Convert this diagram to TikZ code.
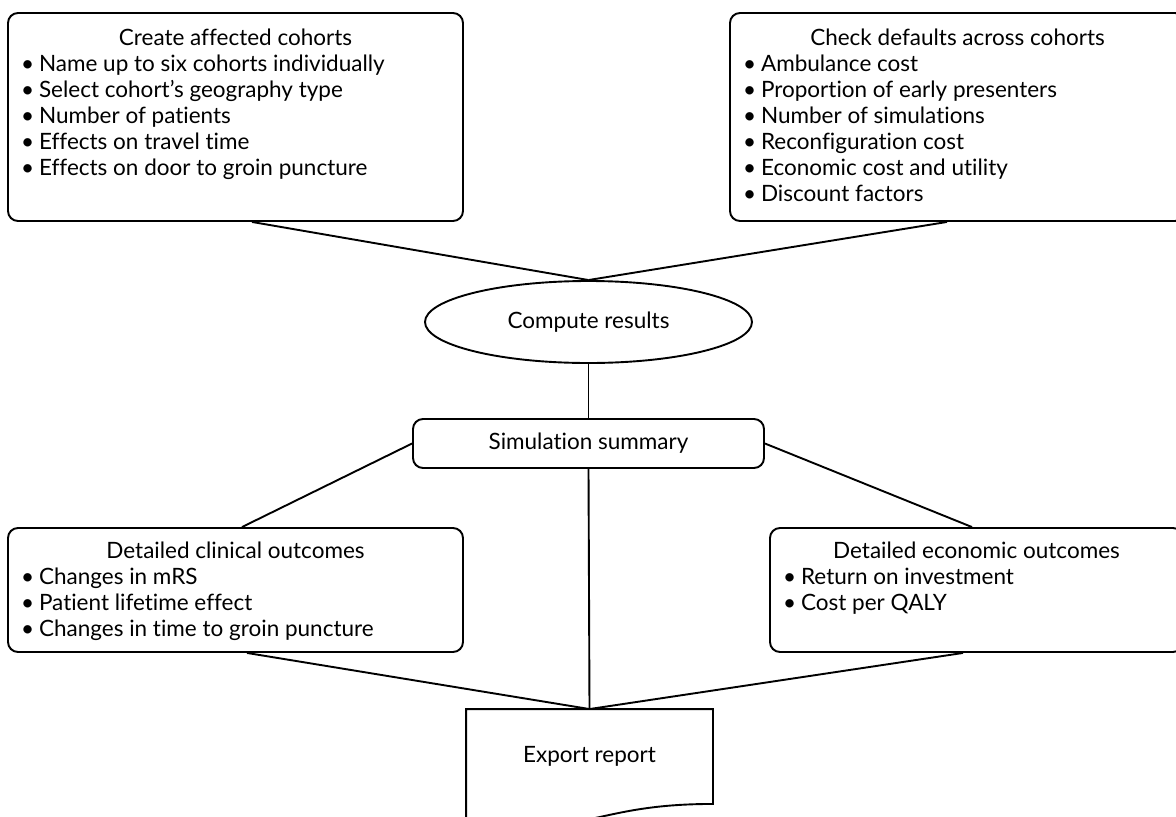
\documentclass[tikz,border=0pt]{standalone}
\usepackage{fontspec}
\setmainfont{Lato}[Ligatures=NoCommon]
\usetikzlibrary{shapes.geometric}
\usetikzlibrary{calc}
\tikzset{every picture/.style={line width=1.9pt}}
% box text: height, width, first baseline, title, items
\newcommand{\boxtext}[5]{\parbox[c][#1][t]{#2}{\centering\rule{0pt}{#3}#4\par\raggedright #5}}
\newcommand{\bul}{\textbullet\hspace{5pt}}

\begin{document}
\begin{tikzpicture}[x=1pt,y=1pt,yscale=-1,xscale=1,
  font=\fontsize{22.5}{26}\selectfont,
  listbox/.style={draw,rounded corners=10pt,inner xsep=13pt,inner ysep=0pt},
  roundbox/.style={draw,rounded corners=10pt,minimum width=351pt,minimum height=49pt,inner sep=0pt},
  ovalbox/.style={draw,ellipse,minimum width=327pt,minimum height=82pt,inner sep=0pt},
  docbox/.style={minimum width=245pt,minimum height=93pt,inner sep=0pt}]
\useasboundingbox (0,0) rectangle (1176,817);
\clip (0,0) rectangle (1176,817);

% input boxes
\node [listbox] (create) at (235.5,117) {\boxtext{208pt}{429pt}{32pt}{Create affected cohorts}{%
  \bul Name up to six cohorts individually\\
  \bul Select cohort’s geography type\\
  \bul Number of patients\\
  \bul Effects on travel time\\
  \bul Effects on door to groin puncture}};
\node [listbox] (defaults) at (957.5,117) {\boxtext{208pt}{429pt}{32pt}{Check defaults across cohorts}{%
  \bul Ambulance cost\\
  \bul Proportion of early presenters\\
  \bul Number of simulations\\
  \bul Reconfiguration cost\\
  \bul Economic cost and utility\\
  \bul Discount factors}};

% compute and summary
\node [ovalbox] (compute) at (588.5,322) {Compute results};
\node [roundbox] (summary) at (588.5,443.5) {Simulation summary};

% outcome boxes
\node [listbox] (clinical) at (235.5,590) {\boxtext{124pt}{429pt}{30pt}{Detailed clinical outcomes}{%
  \bul Changes in mRS\\
  \bul Patient lifetime effect\\
  \bul Changes in time to groin puncture}};
\node [listbox] (economic) at (976.5,590) {\boxtext{124pt}{387pt}{30pt}{Detailed economic outcomes}{%
  \bul Return on investment\\
  \bul Cost per QALY}};

% export document
\node [docbox] (export) at (589.5,756.5) {Export report};
\draw (export.south east) .. controls (export.south) and ($(export.south)+(0,35.5)$) .. ($(export.south west)+(0,15.4)$)
  -- (export.north west) -- (export.north east) -- cycle;

% connectors
\draw ($(create.south)+(16.5,0)$) -- (compute.north);
\draw ($(defaults.south)+(-10.5,0)$) -- (compute.north);
\draw (compute.south) -- (summary.north);
\draw (summary.west) -- ($(clinical.north)+(6.5,0)$);
\draw (summary.east) -- ($(economic.north)+(-4.5,0)$);
\draw (summary.south) -- (export.north);
\draw ($(clinical.south)+(11.5,0)$) -- (export.north);
\draw ($(economic.south)+(-13.5,0)$) -- (export.north);

\end{tikzpicture}
\end{document}
